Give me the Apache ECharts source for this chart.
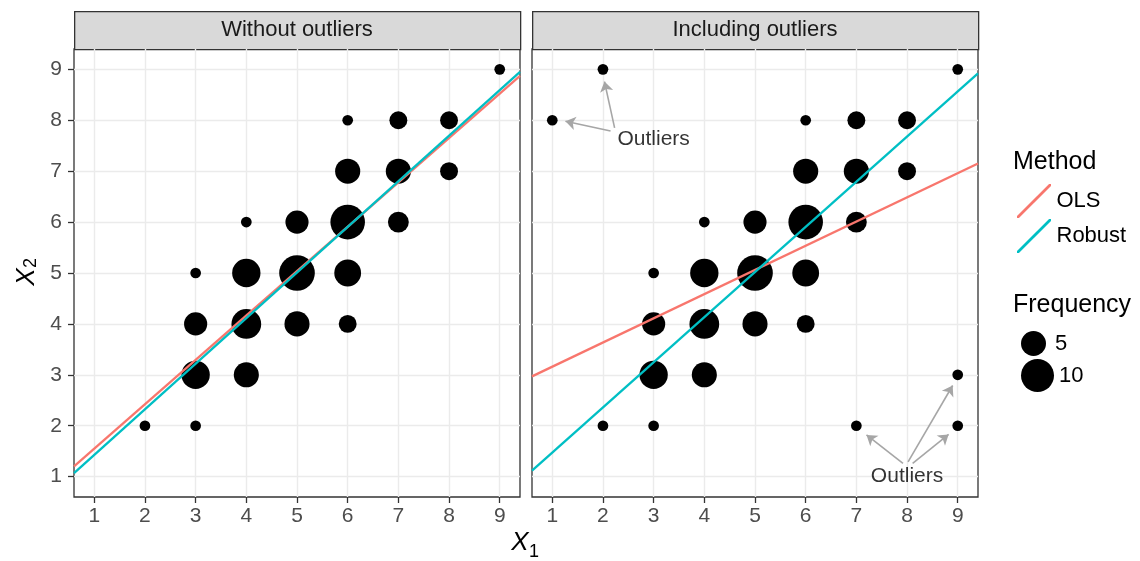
<!DOCTYPE html>
<html>
<head>
<meta charset="utf-8">
<script src="https://cdn.jsdelivr.net/npm/echarts@6/dist/echarts.min.js"></script>
<style>html,body{margin:0;background:#fff}#main{width:1140px;height:561px}</style>
</head>
<body>
<div id="main"></div>
<script>
// axis ticks (both X1 and X2)
const ticks = [1, 2, 3, 4, 5, 6, 7, 8, 9];

// counted points, shared by both panels
const xMain = [2, 3, 3, 4, 3, 4, 5, 6, 3, 4, 5, 6, 4, 5, 6, 7, 6, 7, 8, 6, 7, 8, 9];
const yMain = [2, 2, 3, 3, 4, 4, 4, 4, 5, 5, 5, 5, 6, 6, 6, 6, 7, 7, 7, 8, 8, 8, 9];
const freqMain = [1, 1, 7, 5, 4, 8, 5, 2, 1, 7, 13, 6, 1, 4, 12, 3, 5, 5, 2, 1, 2, 2, 1];

// extra points in the right panel
const xOut = [1, 2, 7, 9, 9];
const yOut = [8, 9, 2, 2, 3];
const freqOut = [1, 1, 1, 1, 1];

// fitted lines, read at the panel edges
const fitX = [0.6, 9.4];
const olsWithout = [1.2, 8.87];
const robustWithout = [1.07, 8.95];
const olsWith = [2.97, 7.15];
const robustWith = [1.12, 8.92];

// annotation text and arrows (right panel)
const noteX = [3.0, 8.0];
const noteY = [7.62, 1.0];
const arrowFrom = [[2.15, 7.79], [2.23, 7.85], [7.92, 1.26], [8.02, 1.29], [8.11, 1.26]];
const arrowTo = [[1.26, 7.98], [2.03, 8.76], [7.2, 1.82], [8.9, 2.79], [8.82, 1.83]];

const sizeLegend = ['5', '10'];

const FONT = '"Liberation Sans", Arial, Helvetica, sans-serif';
const OLS = '#F8766D', ROB = '#00BFC4';

function dotSize(v) {
    return 10.7 + 7.2 * Math.sqrt(v - 1);
}
function zip(xs, ys, fs) {
    return xs.map((x, i) => fs ? [x, ys[i], fs[i]] : [x, ys[i]]);
}
function fitLine(ys) {
    return zip(fitX, ys);
}

const mainData = zip(xMain, yMain, freqMain);
const allData = mainData.concat(zip(xOut, yOut, freqOut));

function xAxisFor(gi) {
    return {
        type: 'value', gridIndex: gi, min: 0.6, max: 9.4,
        axisLine: {show: false},
        axisTick: {show: true, customValues: ticks, length: 6, lineStyle: {color: '#333', width: 1.3}},
        axisLabel: {customValues: ticks, color: '#4d4d4d', fontSize: 21, margin: 9, fontFamily: FONT},
        splitLine: {show: true, lineStyle: {color: '#ebebeb', width: 1.4}}
    };
}
function yAxisFor(gi, labels) {
    return {
        type: 'value', gridIndex: gi, min: 0.6, max: 9.4,
        axisLine: {show: false},
        axisTick: {show: labels, customValues: ticks, length: 6, lineStyle: {color: '#333', width: 1.3}},
        axisLabel: {show: labels, customValues: ticks, color: '#4d4d4d', fontSize: 21, margin: 12, fontFamily: FONT},
        splitLine: {show: true, lineStyle: {color: '#ebebeb', width: 1.4}}
    };
}
function points(gi, data) {
    return {
        type: 'scatter', xAxisIndex: gi, yAxisIndex: gi, data: data,
        symbolSize: d => dotSize(d[2]),
        itemStyle: {color: '#000', opacity: 1}, z: 2, silent: true
    };
}
function line(name, gi, ys, color) {
    return {
        type: 'line', name: name, xAxisIndex: gi, yAxisIndex: gi, data: fitLine(ys),
        showSymbol: false, symbol: 'none', lineStyle: {color: color, width: 2.3},
        itemStyle: {color: color}, z: 3, silent: true
    };
}
function strip(x, label) {
    return [
        {type: 'rect', left: x, top: 11, shape: {width: 446, height: 38},
         style: {fill: '#d9d9d9', stroke: '#333', lineWidth: 1.3}},
        {type: 'text', x: x + 223, y: 30,
         style: {text: label, font: '22px ' + FONT, fill: '#1a1a1a', textAlign: 'center', textVerticalAlign: 'middle'}}
    ];
}

const chart = echarts.init(document.getElementById('main'));
chart.setOption({
    animation: false,
    backgroundColor: '#fff',
    grid: [
        {left: 74, top: 49, width: 446, height: 448, show: true, borderColor: '#333', borderWidth: 1.3, backgroundColor: '#fff'},
        {left: 532, top: 49, width: 446, height: 448, show: true, borderColor: '#333', borderWidth: 1.3, backgroundColor: '#fff'}
    ],
    xAxis: [xAxisFor(0), xAxisFor(1)],
    yAxis: [yAxisFor(0, true), yAxisFor(1, false)],
    legend: [
        {data: ['OLS', 'Robust'], orient: 'vertical', left: 1012, top: 179, itemGap: 1,
         itemWidth: 35, itemHeight: 34, icon: 'path://M0,33 L33,0 L35,0 L35,2 L2,35 L0,35 Z',
         textStyle: {fontSize: 22, color: '#000', fontFamily: FONT}, selectedMode: false},
        {data: [{name: sizeLegend[0], itemStyle: {color: '#000', opacity: 1}}], left: 1016, top: 326,
         itemWidth: 33, itemHeight: 25, icon: 'circle',
         textStyle: {fontSize: 22, color: '#000', fontFamily: FONT}, selectedMode: false},
        {data: [{name: sizeLegend[1], itemStyle: {color: '#000', opacity: 1}}], left: 1016, top: 354,
         itemWidth: 33, itemHeight: 33, icon: 'circle',
         textStyle: {fontSize: 22, color: '#000', fontFamily: FONT}, selectedMode: false}
    ],
    series: [
        points(0, mainData),
        points(1, allData),
        line('OLS', 0, olsWithout, OLS),
        line('Robust', 0, robustWithout, ROB),
        line('OLS', 1, olsWith, OLS),
        line('Robust', 1, robustWith, ROB),
        {type: 'scatter', name: sizeLegend[0], data: [], itemStyle: {color: '#000', opacity: 1}},
        {type: 'scatter', name: sizeLegend[1], data: [], itemStyle: {color: '#000', opacity: 1}},
        {
            type: 'scatter', xAxisIndex: 1, yAxisIndex: 1, silent: true, z: 4,
            data: zip(noteX, noteY), symbolSize: 1, itemStyle: {color: 'transparent'},
            label: {show: true, position: 'inside', formatter: 'Outliers', fontSize: 21, color: '#000',
                    textBorderWidth: 0, fontFamily: FONT},
            markLine: {
                silent: true, animation: false,
                symbol: ['none', 'arrow'], symbolSize: 10,
                lineStyle: {color: '#a6a6a6', width: 1.6, type: 'solid'},
                label: {show: false},
                data: arrowFrom.map((p, i) => [{coord: p}, {coord: arrowTo[i]}])
            }
        }
    ],
    graphic: [
        ...strip(74, 'Without outliers'),
        ...strip(532, 'Including outliers'),
        {type: 'text', x: 520, y: 543,
         style: {text: 'X', font: 'italic 26px ' + FONT, fill: '#000', textAlign: 'center', textVerticalAlign: 'middle'}},
        {type: 'text', x: 534, y: 552,
         style: {text: '1', font: '18px ' + FONT, fill: '#000', textAlign: 'center', textVerticalAlign: 'middle'}},
        {type: 'group', x: 27, y: 277, rotation: Math.PI / 2, children: [
            {type: 'text', x: 0, y: 0,
             style: {text: 'X', font: 'italic 26px ' + FONT, fill: '#000', textAlign: 'center', textVerticalAlign: 'middle'}},
            {type: 'text', x: 14, y: 4,
             style: {text: '2', font: '18px ' + FONT, fill: '#000', textAlign: 'center', textVerticalAlign: 'middle'}}
        ]},
        {type: 'text', x: 1013, y: 162,
         style: {text: 'Method', font: '25px ' + FONT, fill: '#000', textVerticalAlign: 'middle'}},
        {type: 'text', x: 1013, y: 305,
         style: {text: 'Frequency', font: '25px ' + FONT, fill: '#000', textVerticalAlign: 'middle'}}
    ]
});
</script>
</body>
</html>
